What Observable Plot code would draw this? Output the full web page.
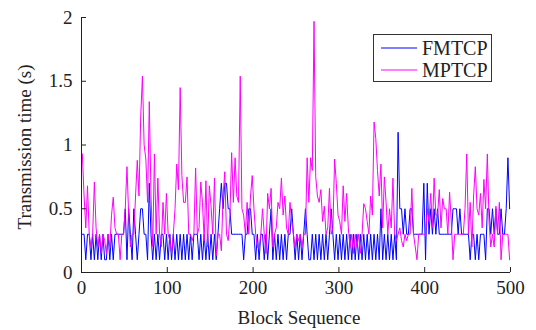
<!DOCTYPE html>
<html>
<head>
<meta charset="utf-8">
<script src="https://cdn.jsdelivr.net/npm/d3@7"></script>
<script src="https://cdn.jsdelivr.net/npm/@observablehq/plot@0.6"></script>
<style>
  html, body { margin: 0; padding: 0; background: #fff; }
  #wrap { position: relative; width: 536px; height: 330px; font-family: "Liberation Serif", "Times New Roman", serif; }
  #legend { position: absolute; left: 373px; top: 34px; width: 117px; height: 46px; border: 1px solid #333; background: #fff; }
  .row { position: absolute; left: 0; height: 22px; display: flex; align-items: center; font-size: 20px; color: #222; }
  .row svg { margin-left: 7px; margin-right: 5px; }
</style>
</head>
<body>
<div id="wrap"></div>
<script>
// Block sequence indices (every other block: 1, 3, 5, ... 499)
const seriesNames = ["FMTCP", "MPTCP"];
const seriesColors = ["#0000ff", "#ff00ff"];
const xTicks = [0, 100, 200, 300, 400, 500];
const yTicks = [0, 0.5, 1, 1.5, 2];

// FMTCP transmission time (s)
const fmtcp = [
  0.3,0.3,0.1,0.3,0.3,0.1,0.3,0.1,0.3,0.1,
  0.3,0.1,0.3,0.1,0.1,0.3,0.1,0.3,0.1,0.3,
  0.3,0.3,0.3,0.3,0.3,0.5,0.1,0.5,0.3,0.1,
  0.5,0.3,0.1,0.3,0.5,0.5,0.3,0.3,0.1,0.7,
  0.3,0.1,0.3,0.1,0.3,0.1,0.3,0.3,0.1,0.3,
  0.1,0.3,0.1,0.3,0.1,0.3,0.1,0.3,0.1,0.3,
  0.1,0.3,0.1,0.3,0.1,0.3,0.3,0.3,0.1,0.3,
  0.1,0.3,0.1,0.3,0.1,0.3,0.1,0.3,0.1,0.3,
  0.5,0.7,0.5,0.7,0.7,0.5,0.5,0.3,0.3,0.3,
  0.3,0.3,0.3,0.3,0.1,0.3,0.3,0.5,0.5,0.3,
  0.3,0.1,0.3,0.1,0.3,0.3,0.1,0.3,0.1,0.3,
  0.5,0.1,0.3,0.1,0.3,0.1,0.3,0.1,0.3,0.1,
  0.3,0.3,0.5,0.3,0.1,0.3,0.1,0.3,0.1,0.3,
  0.5,0.3,0.1,0.1,0.3,0.1,0.3,0.1,0.3,0.1,
  0.3,0.1,0.3,0.1,0.3,0.5,0.3,0.1,0.3,0.1,
  0.3,0.1,0.3,0.1,0.3,0.1,0.3,0.1,0.3,0.1,
  0.3,0.1,0.3,0.1,0.3,0.1,0.3,0.1,0.3,0.1,
  0.3,0.1,0.3,0.1,0.5,0.1,0.3,0.1,0.3,0.1,
  0.3,0.1,0.3,0.1,1.1,0.5,0.5,0.3,0.5,0.3,
  0.3,0.5,0.5,0.3,0.3,0.3,0.3,0.3,0.3,0.7,
  0.1,0.7,0.3,0.5,0.3,0.5,0.3,0.5,0.3,0.3,
  0.3,0.3,0.3,0.3,0.3,0.3,0.5,0.5,0.5,0.3,
  0.5,0.3,0.3,0.3,0.3,0.3,0.1,0.3,0.3,0.1,
  0.3,0.1,0.3,0.3,0.3,0.1,0.5,0.5,0.3,0.5,
  0.3,0.5,0.3,0.3,0.5,0.3,0.3,0.5,0.9,0.5
];

// MPTCP transmission time (s)
const mptcp = [
  0.93,0.6,0.35,0.68,0.3,0.2,0.3,0.71,0.35,0.2,
  0.3,0.15,0.3,0.25,0.15,0.3,0.2,0.45,0.59,0.35,
  0.3,0.3,0.1,0.3,0.3,0.5,0.83,0.45,0.2,0.3,
  0.3,0.6,0.88,0.6,1.22,1.54,1.0,0.89,0.55,1.34,
  0.6,0.2,0.93,0.3,0.74,0.3,0.2,0.55,0.3,0.62,
  0.3,0.25,0.15,0.3,0.5,0.85,0.65,1.45,0.76,0.55,
  0.55,0.75,0.3,0.3,0.25,0.3,0.82,0.3,0.35,0.71,
  0.55,0.25,0.72,0.2,0.68,0.52,0.3,0.74,0.13,0.3,
  0.3,0.17,0.6,0.79,0.3,0.25,0.45,0.94,0.55,0.9,
  0.6,0.55,1.54,0.5,0.45,0.3,0.55,0.3,0.6,0.76,
  0.5,0.3,0.2,0.19,0.3,0.5,0.3,0.15,0.62,0.5,
  0.66,0.2,0.3,0.35,0.55,0.5,0.74,0.45,0.6,0.35,
  0.3,0.55,0.4,0.3,0.2,0.3,0.25,0.3,0.2,0.3,
  0.3,0.9,0.55,0.9,0.8,1.97,0.75,0.6,0.55,0.65,
  0.4,0.52,0.3,0.35,0.66,0.3,0.35,0.89,0.7,0.45,
  0.4,0.3,0.68,0.4,0.62,0.35,0.2,0.3,0.15,0.3,
  0.2,0.3,0.15,0.3,0.54,0.5,0.4,0.3,0.6,0.45,
  1.18,1.05,0.8,0.6,0.85,0.35,0.75,0.55,0.3,0.5,
  0.35,0.74,0.3,0.25,0.3,0.35,0.25,0.2,0.3,0.25,
  0.3,0.3,0.66,0.3,0.2,0.1,0.3,0.3,0.3,0.3,
  0.3,0.5,0.4,0.62,0.35,0.74,0.45,0.45,0.65,0.35,
  0.58,0.5,0.5,0.3,0.63,0.4,0.1,0.3,0.3,0.3,
  0.3,0.3,0.3,0.5,0.93,0.3,0.55,0.2,0.6,0.83,
  0.5,0.45,0.62,0.35,0.73,0.5,0.93,0.4,0.2,0.3,
  0.2,0.52,0.3,0.55,0.1,0.3,0.3,0.3,0.3,0.1
];

const blocks = fmtcp.map((_, i) => 2 * i + 1);
const data = [
  ...fmtcp.map((v, i) => ({x: blocks[i], y: v, s: seriesNames[0]})),
  ...mptcp.map((v, i) => ({x: blocks[i], y: v, s: seriesNames[1]}))
];

const ink = "#222";
const chart = Plot.plot({
  width: 536,
  height: 330,
  marginLeft: 81,
  marginRight: 26,
  marginTop: 17,
  marginBottom: 58,
  style: {fontFamily: "'Liberation Serif', 'Times New Roman', serif", fontSize: "19px", color: ink, background: "#fff", overflow: "visible"},
  x: {domain: [0, 500]},
  y: {domain: [0, 2]},
  color: {domain: seriesNames, range: seriesColors},
  marks: [
    Plot.lineY(data.filter(d => d.s === seriesNames[0]), {x: "x", y: "y", stroke: seriesColors[0], strokeWidth: 1}),
    Plot.lineY(data.filter(d => d.s === seriesNames[1]), {x: "x", y: "y", stroke: seriesColors[1], strokeWidth: 1}),
    Plot.ruleY([0], {stroke: ink, strokeWidth: 1}),
    Plot.ruleX([0], {stroke: ink, strokeWidth: 1}),
    Plot.axisX({ticks: xTicks, tickSize: -5, tickPadding: 13, tickFormat: d => String(d), label: null, stroke: ink, fill: ink}),
    Plot.axisY({ticks: yTicks, tickSize: -5, tickPadding: 14, tickFormat: d => String(d), label: null, stroke: ink, fill: ink}),
    Plot.text(["Block Sequence"], {frameAnchor: "bottom", dy: 51, dx: 3, fill: ink, fontSize: 19}),
    Plot.text(["Transmission time (s)"], {frameAnchor: "left", textAnchor: "middle", dx: -57, dy: 2, rotate: -90, fill: ink, fontSize: 19})
  ]
});

const wrap = document.getElementById("wrap");
wrap.appendChild(chart);

const legend = document.createElement("div");
legend.id = "legend";
seriesNames.forEach((name, i) => {
  const row = document.createElement("div");
  row.className = "row";
  row.style.top = (2 + i * 22) + "px";
  row.innerHTML = `<svg width="36" height="4"><line x1="0" y1="2" x2="36" y2="2" stroke="${seriesColors[i]}" stroke-width="1.2"/></svg><span>${name}</span>`;
  legend.appendChild(row);
});
wrap.appendChild(legend);
</script>
</body>
</html>
